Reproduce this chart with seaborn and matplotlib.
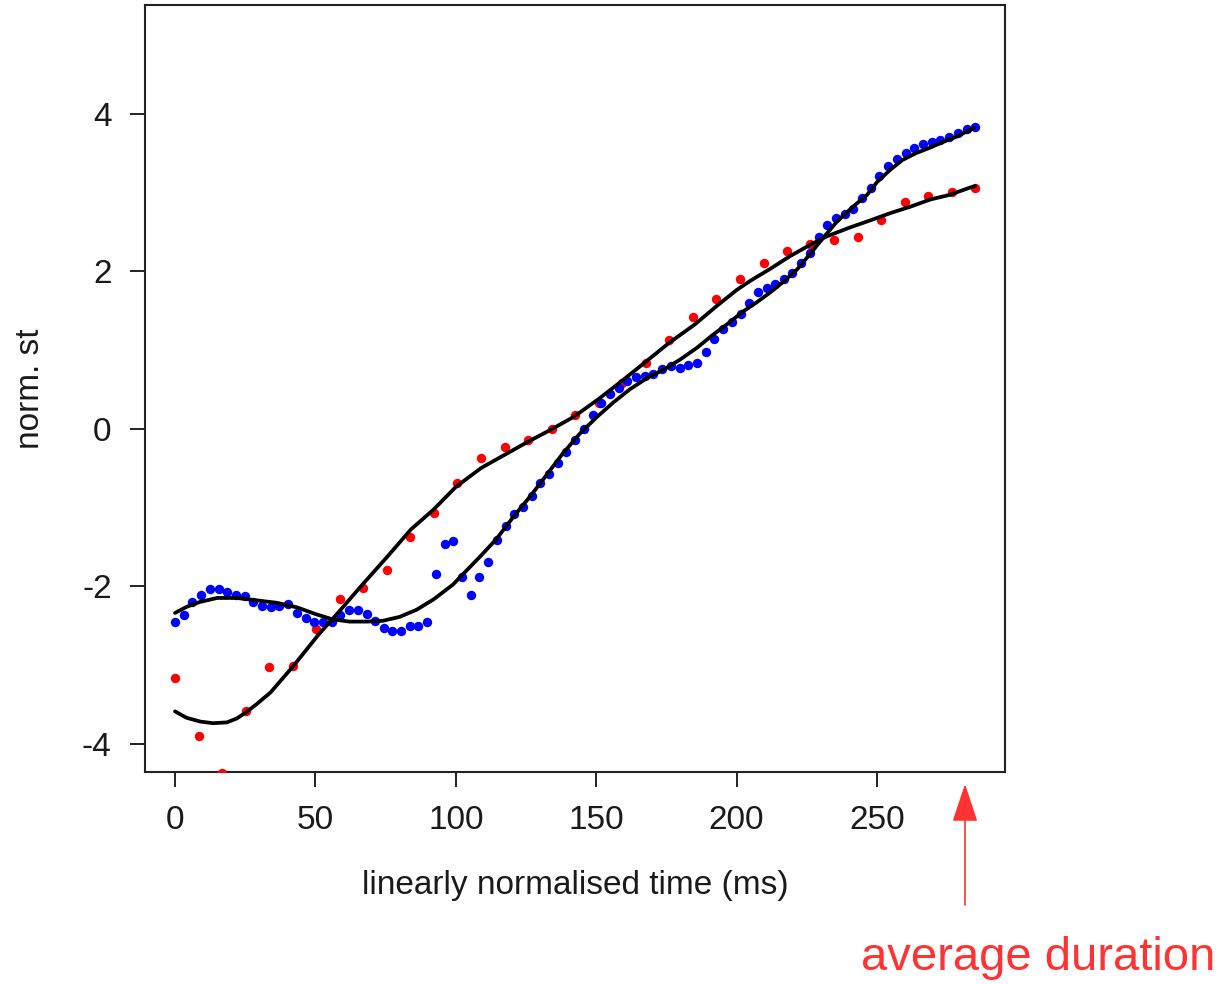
import numpy as np
import pandas as pd
import matplotlib
matplotlib.use("Agg")
import matplotlib.pyplot as plt
import seaborn as sns

# ---- data ----
red_x = [0.0, 8.4, 16.8, 25.1, 33.5, 41.9, 50.3, 58.7, 67.1, 75.4, 83.8, 92.2, 100.6,
         109.0, 117.4, 125.7, 134.1, 142.5, 150.9, 159.3, 167.6, 176.0, 184.4, 192.8,
         201.2, 209.6, 217.9, 226.3, 234.7, 243.1, 251.5, 259.9, 268.2, 276.6, 285.0]
red_y = [-3.17, -3.90, -4.37, -3.59, -3.03, -3.01, -2.55, -2.16, -2.02, -1.80, -1.37,
         -1.07, -0.69, -0.37, -0.23, -0.15, -0.01, 0.17, 0.33, 0.58, 0.84, 1.12, 1.42,
         1.65, 1.90, 2.10, 2.26, 2.35, 2.40, 2.43, 2.65, 2.88, 2.96, 3.00, 3.05]

blue_x = [0.0, 3.1, 6.2, 9.3, 12.4, 15.5, 18.6, 21.7, 24.8, 27.9, 31.0, 34.1, 37.2, 40.3,
          43.4, 46.5, 49.6, 52.7, 55.8, 58.9, 62.0, 65.1, 68.2, 71.3, 74.3, 77.4, 80.5,
          83.6, 86.7, 89.8, 92.9, 96.0, 99.1, 102.2, 105.3, 108.4, 111.5, 114.6, 117.7,
          120.8, 123.9, 127.0, 130.1, 133.2, 136.3, 139.4, 142.5, 145.6, 148.7, 151.8,
          154.9, 158.0, 161.1, 164.2, 167.3, 170.4, 173.5, 176.6, 179.7, 182.8, 185.9,
          189.0, 192.1, 195.2, 198.3, 201.4, 204.5, 207.6, 210.7, 213.8, 216.8, 219.9,
          223.0, 226.1, 229.2, 232.3, 235.4, 238.5, 241.6, 244.7, 247.8, 250.9, 254.0,
          257.1, 260.2, 263.3, 266.4, 269.5, 272.6, 275.7, 278.8, 281.9, 285.0]
blue_y = [-2.46, -2.36, -2.20, -2.11, -2.04, -2.04, -2.08, -2.11, -2.13, -2.20,
          -2.25, -2.27, -2.25, -2.23, -2.34, -2.41, -2.46, -2.46, -2.45, -2.36,
          -2.30, -2.30, -2.35, -2.44, -2.53, -2.57, -2.57, -2.50, -2.50, -2.45,
          -1.85, -1.46, -1.43, -1.89, -2.11, -1.89, -1.69, -1.41, -1.24, -1.09,
          -0.99, -0.85, -0.69, -0.57, -0.43, -0.30, -0.15, 0.00, 0.17, 0.33,
          0.44, 0.52, 0.61, 0.65, 0.67, 0.70, 0.76, 0.79, 0.77, 0.81,
          0.84, 0.97, 1.14, 1.26, 1.35, 1.46, 1.59, 1.73, 1.79, 1.84,
          1.90, 1.98, 2.10, 2.23, 2.43, 2.58, 2.67, 2.72, 2.79, 2.93,
          3.05, 3.21, 3.33, 3.43, 3.50, 3.56, 3.62, 3.64, 3.66, 3.70,
          3.76, 3.81, 3.83]

red_fit_x = [0, 4, 9, 13.5, 18.5, 22, 25, 29, 34, 42, 51, 58, 66, 75.5, 84, 92, 100, 109,
             117, 125, 134, 142, 151, 160, 168, 176, 185, 193, 200, 205, 212, 219, 226,
             232, 240, 248, 255, 262, 269, 276, 283, 285]
red_fit_y = [-3.59, -3.67, -3.72, -3.74, -3.73, -3.68, -3.61, -3.50, -3.35, -3.02, -2.62,
             -2.34, -2.01, -1.63, -1.28, -1.03, -0.74, -0.50, -0.34, -0.18, -0.01, 0.15,
             0.38, 0.63, 0.86, 1.09, 1.32, 1.56, 1.76, 1.88, 2.03, 2.19, 2.33, 2.44, 2.55,
             2.65, 2.74, 2.82, 2.91, 2.97, 3.06, 3.08]

blue_fit_x = [0, 4.3, 8.9, 15, 22, 29, 36, 43.5, 50.5, 56, 62, 68.5, 74, 80, 86, 92, 99,
              102.5, 108.5, 114.5, 120.5, 126.5, 132.5, 138, 144, 150, 156, 162, 168,
              174, 180, 186, 191.5, 197.5, 202, 207, 212, 216.5, 221.5, 226, 231, 236,
              241.5, 246.5, 250, 254.5, 259, 264, 269, 273.5, 278.5, 284.5]
blue_fit_y = [-2.34, -2.26, -2.20, -2.15, -2.15, -2.18, -2.21, -2.27, -2.36, -2.42,
              -2.45, -2.45, -2.44, -2.39, -2.30, -2.17, -1.98, -1.85, -1.63, -1.40,
              -1.12, -0.86, -0.58, -0.32, -0.07, 0.14, 0.33, 0.50, 0.64, 0.75, 0.88,
              1.03, 1.19, 1.35, 1.48, 1.60, 1.73, 1.86, 2.02, 2.21, 2.43, 2.64, 2.82,
              2.97, 3.13, 3.28, 3.41, 3.50, 3.57, 3.64, 3.71, 3.82]

x_ticks = [0, 50, 100, 150, 200, 250]
y_ticks = [-4, -2, 0, 2, 4]
x_label = "linearly normalised time (ms)"
y_label = "norm. st"
note = "average duration"

# ---- styling ----
sns.set_theme(style="white")
plt.rcParams['font.family'] = ['Liberation Sans', 'DejaVu Sans']
plt.rcParams['axes.unicode_minus'] = False

W, H = 1223, 984
fig = plt.figure(figsize=(W / 100, H / 100), dpi=100)
ax = fig.add_axes([145 / W, 1 - 772 / H, (1005 - 145) / W, (772 - 5) / H])

red_df = pd.DataFrame({"t": red_x, "v": red_y})
blue_df = pd.DataFrame({"t": blue_x, "v": blue_y})
rfit_df = pd.DataFrame({"t": red_fit_x, "v": red_fit_y})
bfit_df = pd.DataFrame({"t": blue_fit_x, "v": blue_fit_y})

sns.scatterplot(data=red_df, x="t", y="v", color="#ff0000", s=46, linewidth=0, ax=ax, zorder=3)
sns.scatterplot(data=blue_df, x="t", y="v", color="#0000ff", s=46, linewidth=0, ax=ax, zorder=3)
sns.lineplot(data=rfit_df, x="t", y="v", color="black", lw=2.7, ax=ax, sort=False, zorder=4)
sns.lineplot(data=bfit_df, x="t", y="v", color="black", lw=2.7, ax=ax, sort=False, zorder=4)

ax.set_xlim(-10.7, 295.6)
ax.set_ylim(-4.36, 5.38)
ax.set_xticks(x_ticks)
ax.set_yticks(y_ticks)
ax.set_xticklabels([str(v) for v in x_ticks])
ax.set_yticklabels([str(v) for v in y_ticks])
ax.tick_params(axis='both', direction='out', length=11, width=1.4, color='#222222',
               labelsize=24, labelcolor='#1a1a1a', pad=13, bottom=True, left=True)
for sp in ax.spines.values():
    sp.set_color('#222222')
    sp.set_linewidth(1.5)
ax.set_xlabel(x_label, fontsize=24, color='#1a1a1a', labelpad=24)
ax.set_ylabel(y_label, fontsize=24, color='#1a1a1a', labelpad=26)

ax.annotate('', xy=(965 / W, 1 - 784 / H), xytext=(965 / W, 1 - 905 / H),
            xycoords='figure fraction', textcoords='figure fraction',
            arrowprops=dict(arrowstyle='-|>,head_length=2.4,head_width=0.8',
                            mutation_scale=10, color='#ff3333', lw=1.2,
                            shrinkA=0, shrinkB=0))
fig.text(861 / W, 1 - 970 / H, note, fontsize=34, color='#ff3333',
         ha='left', va='baseline')

fig.savefig("out.png", dpi=100)
